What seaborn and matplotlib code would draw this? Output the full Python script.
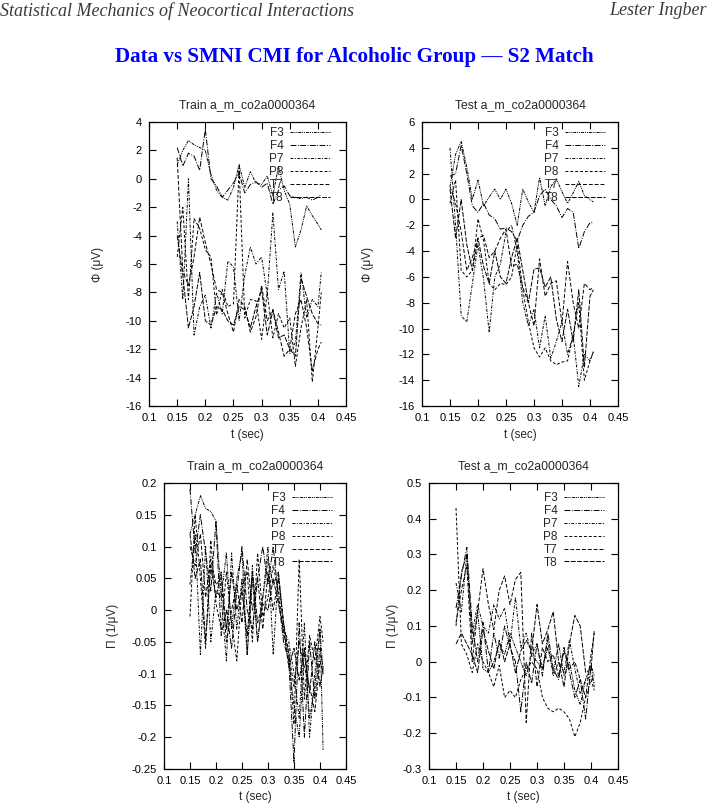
import numpy as np
import pandas as pd
import seaborn as sns
import matplotlib.pyplot as plt
from matplotlib.ticker import FuncFormatter

channels = ["F3", "F4", "P7", "P8", "T7", "T8"]
t = [0.150, 0.160, 0.170, 0.180, 0.190, 0.200, 0.210, 0.220, 0.230, 0.240,
     0.250, 0.260, 0.270, 0.280, 0.290, 0.300, 0.310, 0.320, 0.330, 0.340,
     0.350, 0.360, 0.370, 0.380, 0.390, 0.400, 0.406]

# Train, Phi (uV)
tl_F3 = [1.0, 2.0, 2.7, 2.4, 2.2, 2.0, 0.3, -0.8, -1.3, -1.5, -0.6, 1.0, -0.6, 0.5, -0.3,
         -0.4, 0.2, -1.2, 0.9, -0.8, -1.8, -4.8, -3.6, -1.9, -2.6, -3.2, -3.6]
tl_F4 = [2.2, 0.9, 1.8, 1.6, 0.6, 3.5, 0.0, -0.5, -1.3, -0.8, -0.3, 0.4, -1.0, -0.4, -0.2,
         -0.6, -0.3, -1.8, -0.8, -0.5, -1.2, -1.3, -1.4, -1.3, -1.5, -1.3, -1.1]
tl_P7 = [-3.0, -8.5, 0.0, -11.0, -9.0, -8.2, -10.5, -8.0, -9.5, -5.8, -6.2, -10.0, -6.8, -4.8, -6.0,
         -5.5, -8.2, -2.4, -7.8, -6.5, -12.3, -11.5, -6.6, -9.8, -8.5, -9.0, -6.6]
tl_P8 = [-5.5, -2.0, -8.5, -2.8, -3.5, -5.0, -5.5, -9.6, -7.8, -9.0, -8.8, 0.8, -9.8, -8.5, -8.6,
         -11.3, -8.0, -11.2, -9.5, -10.5, -9.8, -13.2, -10.5, -8.5, -14.3, -10.5, -8.0]
tl_T7 = [1.5, -6.5, -7.5, -5.5, -2.7, -4.5, -6.0, -7.8, -8.0, -9.5, -10.8, -8.5, -9.0, -10.8, -9.7,
         -7.5, -10.0, -9.2, -10.8, -12.5, -12.0, -9.5, -8.5, -10.5, -13.5, -12.0, -11.5]
tl_T8 = [-4.0, -6.8, -10.5, -9.0, -6.6, -10.0, -10.3, -9.0, -9.2, -10.0, -10.3, -9.0, -9.2, -10.5, -9.0,
         -7.8, -11.0, -9.3, -11.2, -11.0, -12.0, -12.5, -7.0, -8.3, -9.5, -10.2, -10.3]

# Test, Phi (uV)
tr_F3 = [1.0, 3.5, 4.5, 2.5, 0.0, 1.5, -0.5, 0.2, 0.8, 0.0, 0.8, -0.3, -2.0, 0.8, -0.2,
         -1.0, 1.7, -0.5, 1.0, 1.6, 0.6, -0.3, 0.5, 1.4, 0.3, 0.0, -0.2]
tr_F4 = [1.8, 2.0, 4.2, 2.0, -0.5, -1.0, -0.3, -1.2, -1.5, -2.3, -2.2, -2.5, -3.2, -2.0, -1.3,
         -1.0, 0.3, 0.8, 0.0, -0.5, -1.4, -0.7, -1.0, -3.8, -2.5, -1.8, -1.8]
tr_P7 = [4.0, -2.0, -9.0, -9.5, -6.5, -3.5, -6.2, -10.3, -6.0, -5.0, -2.5, -2.0, -4.0, -8.0, -9.8,
         -8.5, -11.5, -9.0, -12.3, -11.0, -9.5, -12.0, -10.5, -14.5, -12.0, -12.5, -11.8]
tr_P8 = [-0.3, 1.5, -5.5, -6.0, -5.5, -1.5, -3.2, -6.5, -7.0, -6.5, -6.6, -6.0, -3.5, -7.0, -9.5,
         -11.5, -12.2, -11.5, -12.5, -12.8, -12.6, -12.5, -10.5, -8.0, -14.0, -12.5, -11.8]
tr_T7 = [1.0, -0.3, -2.5, -5.5, -4.5, -3.0, -2.8, -4.5, -4.0, -3.0, -2.3, -5.2, -5.0, -6.8, -8.0,
         -9.8, -4.6, -7.5, -6.5, -6.3, -9.6, -4.8, -8.0, -10.0, -6.5, -7.0, -6.8]
tr_T8 = [0.8, -3.0, 0.0, -3.5, -5.5, -3.0, -5.2, -6.5, -4.0, -6.0, -6.5, -4.5, -3.0, -5.5, -8.0,
         -5.4, -5.3, -6.8, -6.0, -9.3, -11.0, -8.5, -11.0, -7.0, -13.0, -7.5, -7.0]

# Train, Pi (1/uV)
bl_F3 = [0.12, 0.15, 0.18, 0.16, 0.155, 0.14, 0.02, 0.09, -0.03, 0.05, 0.09, -0.07, 0.05, -0.05, 0.02,
         0.08, 0.04, 0.06, -0.02, -0.08, -0.15, -0.2, -0.06, -0.17, -0.12, -0.03, -0.22]
bl_F4 = [0.19, 0.09, 0.15, 0.09, 0.03, 0.14, -0.04, 0.0, -0.06, 0.03, 0.1, 0.0, -0.03, 0.05, 0.1,
         0.04, 0.1, 0.02, -0.05, -0.08, -0.24, -0.02, -0.2, -0.05, -0.14, -0.06, -0.09]
bl_P7 = [0.04, 0.12, -0.07, 0.1, -0.05, 0.03, 0.02, -0.08, 0.09, -0.03, 0.05, -0.07, 0.07, -0.05, 0.02,
         0.1, -0.07, 0.06, -0.03, -0.05, -0.1, -0.17, -0.02, -0.2, -0.1, -0.03, -0.1]
bl_P8 = [-0.01, 0.15, 0.05, -0.06, 0.11, 0.01, -0.03, 0.06, -0.02, -0.08, 0.04, 0.06, -0.05, 0.09, -0.01,
         0.02, 0.07, 0.03, -0.04, -0.06, -0.18, 0.08, -0.14, -0.04, -0.08, -0.01, -0.05]
bl_T7 = [0.1, 0.07, 0.12, 0.02, 0.08, 0.04, 0.05, -0.05, 0.0, 0.04, -0.02, 0.08, 0.0, 0.05, -0.03,
         0.06, 0.0, 0.05, -0.02, -0.07, -0.12, -0.05, -0.09, -0.12, -0.16, -0.08, -0.1]
bl_T8 = [0.12, 0.05, 0.08, -0.05, 0.07, 0.02, 0.06, -0.03, 0.06, 0.0, 0.03, -0.04, 0.06, -0.02, 0.01,
         0.0, 0.05, 0.01, -0.03, -0.09, -0.06, -0.11, -0.06, -0.13, -0.05, -0.12, -0.09]

# Test, Pi (1/uV)
br_F3 = [0.1, 0.25, 0.3, 0.05, 0.14, -0.02, -0.03, 0.0, 0.05, 0.02, 0.08, 0.04, 0.0, -0.04, 0.02,
         0.0, -0.02, 0.04, -0.03, 0.05, -0.04, 0.0, -0.08, -0.12, -0.05, -0.01, -0.04]
br_F4 = [0.15, 0.24, 0.32, 0.1, 0.0, 0.11, -0.03, 0.08, 0.01, 0.1, 0.04, 0.0, -0.14, 0.0, -0.06,
         0.05, -0.04, 0.08, -0.02, -0.05, 0.04, -0.03, -0.1, -0.05, -0.16, -0.01, -0.07]
br_P7 = [0.22, 0.14, 0.3, 0.08, 0.16, 0.1, 0.08, 0.16, 0.12, 0.15, 0.05, 0.18, 0.04, 0.08, 0.02,
         0.05, -0.02, 0.06, -0.04, 0.0, -0.03, 0.06, -0.02, -0.09, -0.05, -0.04, -0.06]
br_P8 = [0.43, 0.05, 0.02, -0.03, 0.05, 0.0, -0.03, -0.07, -0.01, -0.1, -0.08, -0.1, -0.05, -0.02, 0.0,
         -0.02, -0.1, -0.13, -0.14, -0.13, -0.14, -0.16, -0.21, -0.17, -0.1, -0.05, -0.08]
br_T7 = [0.11, 0.2, 0.27, 0.0, 0.14, 0.26, 0.16, 0.09, 0.2, 0.24, 0.16, 0.23, 0.25, -0.17, 0.08,
         -0.07, 0.04, 0.0, 0.02, -0.04, 0.03, -0.02, 0.0, -0.05, -0.1, 0.02, 0.08]
br_T8 = [0.05, 0.08, 0.05, 0.02, -0.03, 0.09, 0.03, -0.02, 0.06, 0.0, 0.05, -0.03, 0.03, 0.06, 0.03,
         0.16, 0.05, 0.09, 0.14, 0.0, -0.07, 0.05, 0.13, 0.1, -0.03, -0.02, 0.09]

# gnuplot-ish dash patterns, one per channel
dash_styles = {
    "F3": (0, (3, 1, 1, 1, 1, 1)),
    "F4": (0, (6, 1.5, 1, 1.5)),
    "P7": (0, (3, 1.5, 1, 1.5)),
    "P8": (0, (3, 2)),
    "T7": (0, (4, 2)),
    "T8": (0, (5, 1.5)),
}

sns.set_style("ticks")
plt.rcParams["font.family"] = ["Liberation Sans", "DejaVu Sans"]

fig = plt.figure(figsize=(7.09, 8.07), dpi=100)

panels = [
    # rect, title, ylabel, series, ylim, yticks, legend anchor, ylabel x
    ([0.2102, 0.4969, 0.2779, 0.3519], "Train a_m_co2a0000364", "\u03a6 (\u03bcV)",
     [tl_F3, tl_F4, tl_P7, tl_P8, tl_T7, tl_T8], (-16, 4), np.arange(-16, 5, 2), (0.919, 0.982), -0.228),
    ([0.5952, 0.4969, 0.2764, 0.3519], "Test a_m_co2a0000364", "\u03a6 (\u03bcV)",
     [tr_F3, tr_F4, tr_P7, tr_P8, tr_T7, tr_T8], (-16, 6), np.arange(-16, 7, 2), (0.934, 0.982), -0.245),
    ([0.2313, 0.0471, 0.2567, 0.3544], "Train a_m_co2a0000364", "\u03a0 (1/\u03bcV)",
     [bl_F3, bl_F4, bl_P7, bl_P8, bl_T7, bl_T8], (-0.25, 0.2), np.round(np.arange(-0.25, 0.21, 0.05), 2), (0.923, 0.969), -0.247),
    ([0.6051, 0.0471, 0.2666, 0.3544], "Test a_m_co2a0000364", "\u03a0 (1/\u03bcV)",
     [br_F3, br_F4, br_P7, br_P8, br_T7, br_T8], (-0.3, 0.5), np.round(np.arange(-0.3, 0.51, 0.1), 2), (0.926, 0.969), -0.159),
]

fmt = FuncFormatter(lambda v, p: "%g" % (round(v, 3) + 0.0))

for rect, title, ylab, series, ylim, yticks, anchor, ylx in panels:
    ax = fig.add_axes(rect)
    for ch, vals in zip(channels, series):
        df = pd.DataFrame({"t": t, "v": vals})
        sns.lineplot(data=df, x="t", y="v", ax=ax, color="black", linewidth=0.7,
                     linestyle=dash_styles[ch], label=ch)
    ax.set_xlim(0.1, 0.45)
    ax.set_ylim(*ylim)
    ax.set_xticks(np.round(np.arange(0.1, 0.46, 0.05), 2))
    ax.set_yticks(yticks)
    ax.xaxis.set_major_formatter(fmt)
    ax.yaxis.set_major_formatter(fmt)
    ax.tick_params(direction="in", length=5, width=0.8, top=True, right=True,
                   labelsize=8, pad=5, colors="black")
    for s in ax.spines.values():
        s.set_linewidth(0.9)
        s.set_color("black")
    ax.set_title(title, fontsize=8.8, pad=10)
    ax.set_xlabel("t (sec)", fontsize=8.5, labelpad=4)
    ax.set_ylabel(ylab, fontsize=8.5)
    ax.yaxis.set_label_coords(ylx, 0.5)
    ax.legend(loc="upper right", bbox_to_anchor=anchor, frameon=False, markerfirst=False,
              fontsize=8.5, handlelength=3.4, handletextpad=0.55, labelspacing=0.08,
              borderpad=0, borderaxespad=0)

fig.text(0.0, 0.997, "Statistical Mechanics of Neocortical Interactions", ha="left", va="top",
         fontsize=13, style="italic", family="Liberation Serif", color="#3a3a3a")
fig.text(0.997, 0.997, "Lester Ingber", ha="right", va="top",
         fontsize=13, style="italic", family="Liberation Serif", color="#3a3a3a")
fig.text(0.5, 0.929, "Data vs SMNI CMI for Alcoholic Group \u2014 S2 Match", ha="center", va="center",
         fontsize=15.2, weight="bold", family="Liberation Serif", color="#0000ff")

fig.savefig("out.png", dpi=100, facecolor="white")
